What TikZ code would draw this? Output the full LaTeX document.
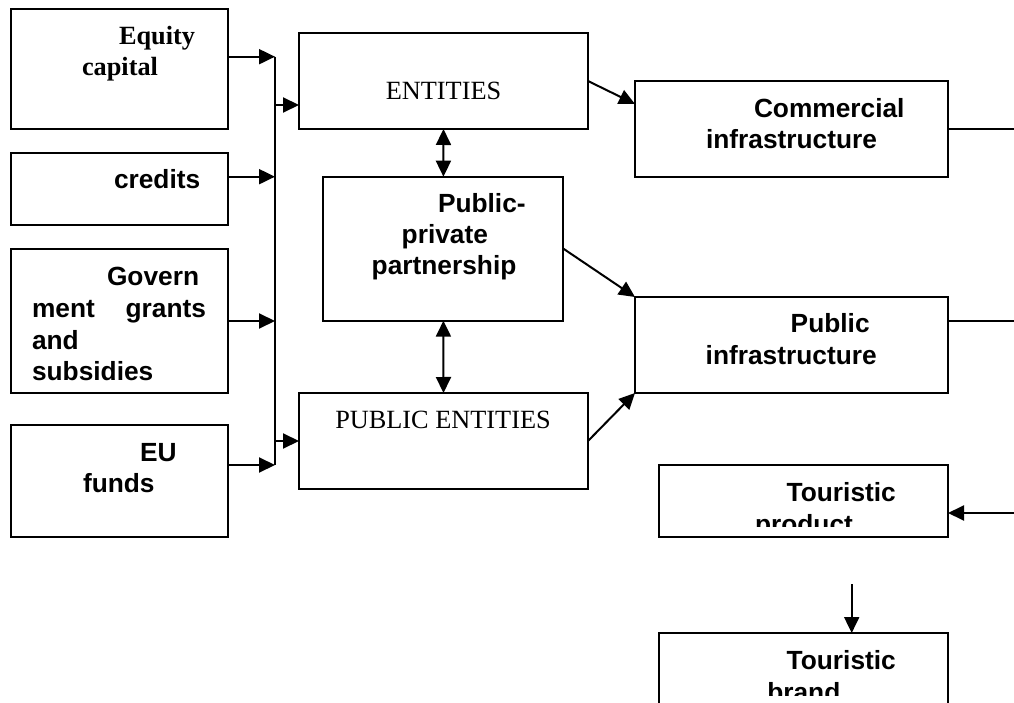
\documentclass[tikz,border=0pt]{standalone}
\usepackage{fontspec}
\setmainfont{Liberation Serif}
\newfontfamily\arial{Liberation Sans}
\usetikzlibrary{arrows.meta}
\tikzset{
  box/.style={draw, line width=2pt, inner sep=0pt, outer sep=0pt, fill=white},
  ln/.style={line width=2pt},
  arr/.style={line width=2pt, -{Triangle[length=16pt,width=15pt]}},
  darr/.style={line width=2pt, {Triangle[length=16pt,width=15pt]}-{Triangle[length=16pt,width=15pt]}},
  atxt/.style={anchor=base west, inner sep=0pt, outer sep=0pt, font=\arial\bfseries\fontsize{26.3}{31.5}\selectfont},
  ttxt/.style={anchor=base west, inner sep=0pt, outer sep=0pt, font=\fontsize{26.3}{31.5}\selectfont},
  tbtxt/.style={anchor=base west, inner sep=0pt, outer sep=0pt, font=\bfseries\fontsize{26.3}{31.5}\selectfont}
}
\begin{document}
\begin{tikzpicture}[x=1pt,y=-1pt]
\clip (0,0) rectangle (1014,703);
\fill[white] (0,0) rectangle (1014,703);

% left boxes
\node[box, minimum width=217pt, minimum height=120pt] (eq) at (119.5,69) {};
\node[box, minimum width=217pt, minimum height=72pt] (cr) at (119.5,189) {};
\node[box, minimum width=217pt, minimum height=144pt] (gov) at (119.5,321) {};
\node[box, minimum width=217pt, minimum height=112pt] (eu) at (119.5,481) {};

% middle boxes
\node[box, minimum width=289pt, minimum height=96pt] (ent) at (443.5,81) {};
\node[box, minimum width=240pt, minimum height=144pt] (ppp) at (443.4,248.7) {};
\node[box, minimum width=289pt, minimum height=96pt] (pent) at (443.5,441) {};

% right boxes
\node[box, minimum width=313pt, minimum height=96pt] (com) at (791.5,129) {};
\node[box, minimum width=313pt, minimum height=96pt] (pinf) at (791.5,345) {};
\node[box, minimum width=289pt, minimum height=72pt] (tp) at (803.5,501) {};
\node[box, minimum width=289pt, minimum height=120pt] (tb) at (803.5,693) {};

% texts
\node[tbtxt] (t-eq1) at (119,45) {Equity};
\node[tbtxt] (t-eq2) at (82,76) {capital};
\node[atxt] (t-cr) at (114,189) {credits};
\node[atxt] (t-gov1) at (107,285) {Govern};
\node[atxt] (t-gov2) at (32,317) {\hbox to 174pt{ment\hfill grants}};
\node[atxt] (t-gov3) at (32,349) {and};
\node[atxt] (t-gov4) at (32,380) {subsidies};
\node[atxt] (t-eu1) at (140,461) {EU};
\node[atxt] (t-eu2) at (83,492) {funds};

\node[ttxt, anchor=base] (t-ent) at (443.5,100) {ENTITIES};
\node[atxt] (t-ppp1) at (438,213) {Public-};
\node[atxt] (t-ppp2) at (401.7,244) {private};
\node[atxt] (t-ppp3) at (371.7,275) {partnership};
\node[ttxt, anchor=base] (t-pent) at (443,428.3) {PUBLIC ENTITIES};

\node[atxt] (t-com1) at (754,117.3) {Commercial};
\node[atxt] (t-com2) at (706,148.3) {infrastructure};
\node[atxt] (t-pinf1) at (790.7,332.7) {Public};
\node[atxt] (t-pinf2) at (705.7,364.3) {infrastructure};

\node[atxt] (t-tp1) at (786.7,501) {Touristic};
\begin{scope}
  \clip (tp.north west) rectangle ([yshift=11pt]tp.south east);
  \node[atxt] (t-tp2) at (755,533) {product};
\end{scope}
\node[atxt] (t-tb1) at (786.7,669.3) {Touristic};
\begin{scope}
  \clip (tb.north west) rectangle (948,695);
  \node[atxt] (t-tb2) at (767.3,701.5) {brand};
\end{scope}

% bus
\coordinate (b1) at (275,56.7);
\coordinate (b2) at (275,176.7);
\coordinate (b3) at (275,321);
\coordinate (b4) at (275,465);
\coordinate (b5) at (275,105);
\coordinate (b6) at (275,441);
\draw[ln] (b1) -- (b4);
\draw[arr] (eq.east |- b1) -- (b1);
\draw[arr] (cr.east |- b2) -- (b2);
\draw[arr] (gov.east |- b3) -- (b3);
\draw[arr] (eu.east |- b4) -- (b4);
\draw[arr] (b5) -- (ent.west |- b5);
\draw[arr] (b6) -- (pent.west |- b6);

% double arrows
\draw[darr] (ent.south) -- (ppp.north);
\draw[darr] (ppp.south) -- (pent.north);

% diagonals
\coordinate (c-in) at (635,104);
\draw[arr] (ent.east) -- (com.west |- c-in);
\draw[arr] (ppp.east) -- (pinf.north west);
\draw[arr] (pent.east) -- (pinf.south west);

% right edge lines
\coordinate (r1) at (1014,129);
\coordinate (r2) at (1014,321);
\coordinate (r3) at (1014,513);
\draw[ln] (com.east) -- (r1);
\draw[ln] (pinf.east |- r2) -- (r2);
\draw[arr] (r3) -- (tp.east |- r3);

% down arrow
\coordinate (d1) at (851.7,584);
\draw[arr] (d1) -- (d1 |- tb.north);
\end{tikzpicture}
\end{document}
